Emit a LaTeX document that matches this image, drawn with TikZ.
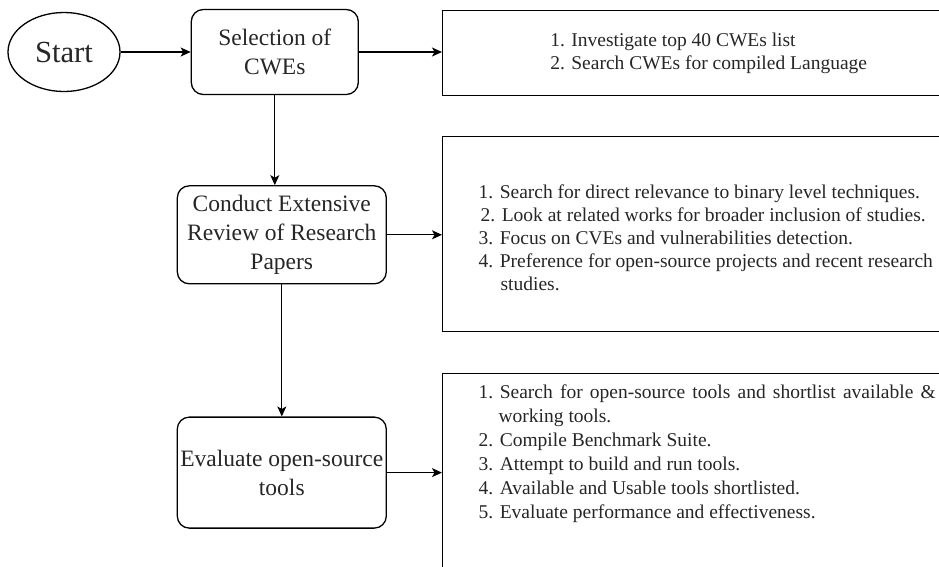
\documentclass[tikz,border=0pt]{standalone}
\usepackage{fontspec}
\setmainfont{Liberation Serif}
\usetikzlibrary{arrows.meta,positioning,shapes.geometric}
\newcommand{\noteList}[3]{%
	\begin{minipage}[t][#1][t]{520pt}
	\vspace*{#2}#3
	\end{minipage}%
}

\begin{document}
\begin{tikzpicture} %
		[
			x=1pt, y=-1pt,
			line width=1.3pt,
			text=black!85,
			terminal/.style={
				draw,
				ellipse,
				inner sep=0,
				minimum width=112pt,
				minimum height=79pt,
				font={\fontsize{30.7}{36}\selectfont},
			},
			stepbox/.style={
				draw,
				rectangle,
				rounded corners=12,
				align=center,
				inner sep=0,
				minimum width=209pt,
				font={\fontsize{23.5}{29}\selectfont},
			},
			notebox/.style={
				draw,
				rectangle,
				anchor=north west,
				inner sep=0,
				font={\fontsize{19.5}{23}\selectfont},
			},
			arch/.style={-{Stealth[length=10pt,width=9pt,inset=2.5pt]}},
		]
		\useasboundingbox (0,0) rectangle (939,566);
		\clip (0,0) rectangle (939,566);
		\node[terminal] 
		(start) at (64,52) {Start};
		\node[stepbox, minimum width=167pt, minimum height=85pt, right=70pt of start] 
		(cwe) {Selection of\\CWEs};
		\node[stepbox, minimum height=98pt, below=90pt of cwe, xshift=7pt] 
		(review) {Conduct Extensive\\Review of Research\\Papers};
		\node[stepbox, minimum height=111pt, below=132pt of review] 
		(tools) {Evaluate open-source\\tools};
		% the three lists run off the right edge
		\node[notebox, align=left, minimum width=532pt, minimum height=85pt] 
		(cwelist) at (442,10) 
		{1. Investigate top 40 CWEs list\\
			2. Search CWEs for compiled Language};
		\node[notebox, inner xsep=36pt] 
		(reviewlist) at (442,136) 
		{\noteList{195pt}{48pt}{%
			1. Search for direct relevance to binary level techniques.\\
			\hspace*{2pt}2. Look at related works for broader inclusion of studies.\\
			3. Focus on CVEs and vulnerabilities detection.\\
			4. Preference for open-source projects and recent research\\
			\hspace*{22pt}studies.}};
		\node[notebox, inner xsep=36pt] 
		(toolslist) at (442,373) 
		{\noteList{250pt}{11pt}{\fontsize{19.5}{24}\selectfont
			1. \makebox[436pt][s]{Search for open-source tools and shortlist available \&}\\
			\hspace*{20pt}working tools.\\
			2. Compile Benchmark Suite.\\
			3. Attempt to build and run tools.\\
			4. Available and Usable tools shortlisted.\\
			5. Evaluate performance and effectiveness.}};
		\draw[arch] (start) -- (cwe);
		\draw[arch] (cwe) -- (cwe -| cwelist.west);
		\draw[arch] (cwe) -- (cwe |- review.north);
		\draw[arch] (review) -- (review -| reviewlist.west);
		\draw[arch] (review) -- (tools);
		\draw[arch] (tools) -- (tools -| toolslist.west);
	\end{tikzpicture}
\end{document}
